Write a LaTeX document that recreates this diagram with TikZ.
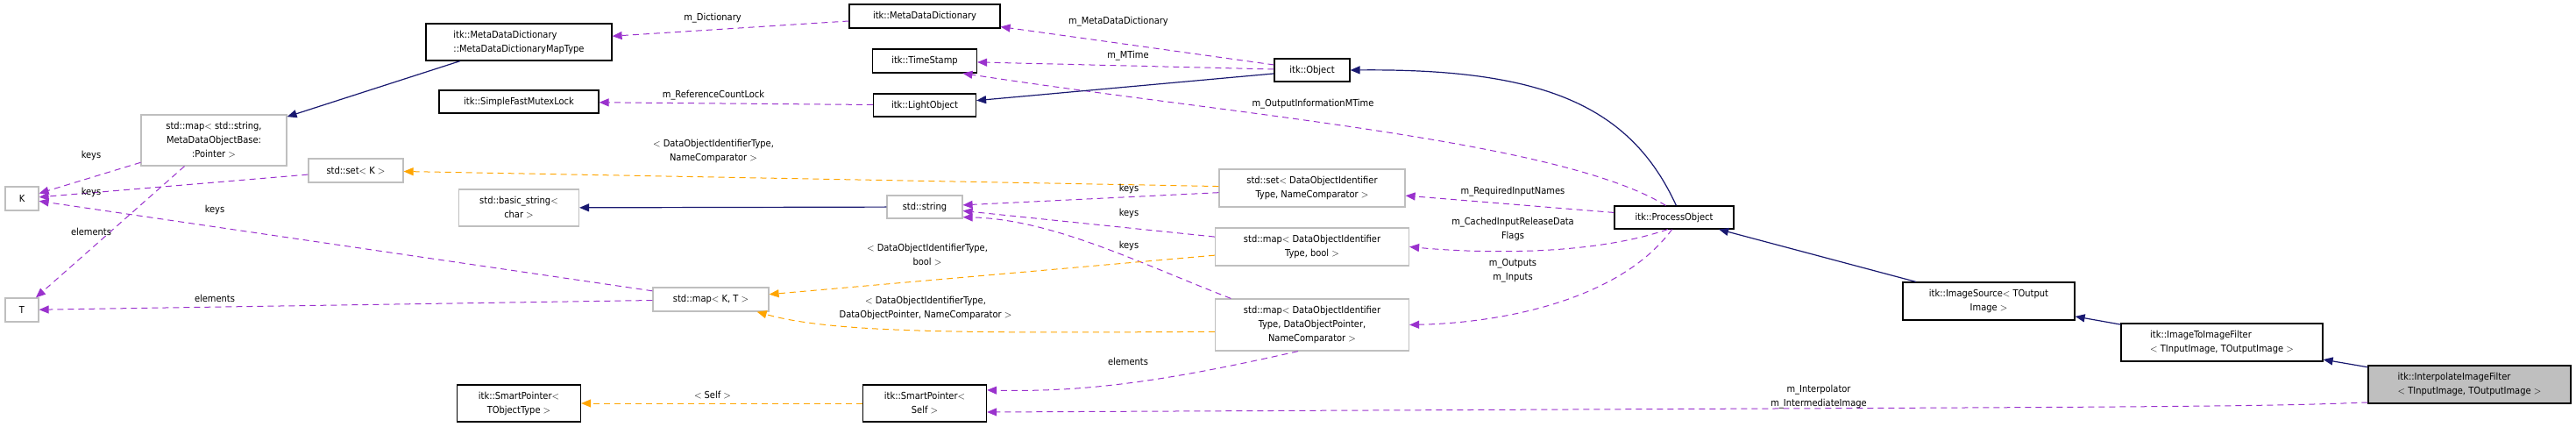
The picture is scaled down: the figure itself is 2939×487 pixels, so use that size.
\documentclass[tikz,border=0pt]{standalone}
\usepackage{fontspec}
\setmainfont{DejaVu Sans Condensed}
\usetikzlibrary{arrows.meta}
\definecolor{pur}{HTML}{9A32CD}
\definecolor{org}{HTML}{FFA500}
\definecolor{nav}{HTML}{191970}
\definecolor{gbd}{HTML}{BFBFBF}
\begin{document}
\begin{tikzpicture}[x=1pt,y=-1pt,
  every node/.style={font=\fontsize{11}{16}\selectfont, inner sep=0pt},
  bx/.style={draw=black, line width=1.2pt, fill=white, align=center},
  gb/.style={draw=gbd, line width=1.2pt, fill=white, align=center},
  lab/.style={align=center},
  tip/.style={-{Triangle[length=11pt,width=9pt]}},
  mem/.style={tip, draw=pur, line width=1pt, dash pattern=on 7pt off 5pt},
  tpl/.style={tip, draw=org, line width=1pt, dash pattern=on 7pt off 5pt},
  inh/.style={tip, draw=nav, line width=1.2pt}]
\useasboundingbox (0,0) rectangle (2939,487);
% nodes
\node[bx, minimum width=212, minimum height=42, align=left] (mapt) at (592,48) {itk::MetaDataDictionary\\::MetaDataDictionaryMapType};
\node[bx, minimum width=182, minimum height=26] (sfml) at (592,116) {itk::SimpleFastMutexLock};
\node[gb, minimum width=166, minimum height=58] (smap) at (244,160) {std::map$<$ std::string,\\MetaDataObjectBase:\\:Pointer $>$};
\node[gb, minimum width=108, minimum height=27] (setk) at (406,194.5) {std::set$<$ K $>$};
\node[gb, minimum width=38, minimum height=27] (K) at (25,226.5) {K};
\node[gb, minimum width=38, minimum height=27] (T) at (25,353.5) {T};
\node[gb, minimum width=137, minimum height=42] (bstr) at (592,237) {std::basic\_string$<$\\char $>$};
\node[gb, minimum width=132, minimum height=27] (mkt) at (811,341.5) {std::map$<$ K, T $>$};
\node[bx, minimum width=141, minimum height=42] (spt) at (592,460) {itk::SmartPointer$<$\\TObjectType $>$};
\node[bx, minimum width=172, minimum height=27] (mdd) at (1055,18.5) {itk::MetaDataDictionary};
\node[bx, minimum width=119, minimum height=27] (ts) at (1055,69.5) {itk::TimeStamp};
\node[bx, minimum width=117, minimum height=26] (lo) at (1055,120) {itk::LightObject};
\node[gb, minimum width=86, minimum height=26] (str) at (1055,236) {std::string};
\node[bx, minimum width=141, minimum height=42] (sps) at (1055,460) {itk::SmartPointer$<$\\Self $>$};
\node[bx, minimum width=86, minimum height=26] (obj) at (1497,80) {itk::Object};
\node[gb, minimum width=212, minimum height=43] (setdoi) at (1497,214.5) {std::set$<$ DataObjectIdentifier\\Type, NameComparator $>$};
\node[gb, minimum width=221, minimum height=43] (mbool) at (1497,281.5) {std::map$<$ DataObjectIdentifier\\Type, bool $>$};
\node[gb, minimum width=221, minimum height=59] (mdop) at (1497,370.5) {std::map$<$ DataObjectIdentifier\\Type, DataObjectPointer,\\NameComparator $>$};
\node[bx, minimum width=136, minimum height=26] (po) at (1910,248) {itk::ProcessObject};
\node[bx, minimum width=196, minimum height=43] (isrc) at (2269,343.5) {itk::ImageSource$<$ TOutput\\Image $>$};
\node[bx, minimum width=230, minimum height=43, align=left] (itif) at (2535,390.5) {itk::ImageToImageFilter\\$<$ TInputImage, TOutputImage $>$};
\node[bx, fill=gbd, minimum width=231, minimum height=43, align=left] (iif) at (2817.5,438.5) {itk::InterpolateImageFilter\\$<$ TInputImage, TOutputImage $>$};
% connectors
\draw[mem] (mdd) -- (mapt);
\draw[mem] (obj) -- (mdd);
\draw[mem] (obj) -- (ts);
\draw[mem] (po.125) .. controls (1780,160) and (1400,130) .. (ts.-18);
\draw[mem] (lo) -- (sfml);
\draw[inh] (obj) -- (lo);
\draw[inh] (po.80) .. controls (1860,120) and (1760,78) .. (obj.east);
\draw[inh] (mapt) -- (smap);
\draw[mem] (smap) -- (K);
\draw[mem] (smap) -- (T);
\draw[mem] (setk) -- (K);
\draw[mem] (mkt) -- (K);
\draw[mem] (mkt) -- (T);
\draw[tpl] (setdoi) -- (setk);
\draw[mem] (setdoi) -- (str);
\draw[mem] (mbool) -- (str);
\draw[mem] (mdop.162) .. controls (1300,300) and (1200,250) .. (str.-15);
\draw[inh] (str) -- (bstr);
\draw[tpl] (mbool) -- (mkt);
\draw[tpl] (mdop.184) .. controls (1100,380) and (950,380) .. (mkt.-15);
\draw[mem] (mdop.-118) .. controls (1350,430) and (1250,448) .. (sps.12);
\draw[tpl] (sps) -- (spt);
\draw[mem] (iif.190) .. controls (2550,465) and (2400,464) .. (sps.-8);
\draw[mem] (po) -- (setdoi);
\draw[mem] (po.-118) .. controls (1820,290) and (1700,290) .. (mbool.east);
\draw[mem] (po.-100) .. controls (1850,340) and (1720,368) .. (mdop.east);
\draw[inh] (isrc) -- (po);
\draw[inh] (itif) -- (isrc);
\draw[inh] (iif) -- (itif);
% labels
\node[lab] (l1) at (813,21) {m\_Dictionary};
\node[lab] (l2) at (1276,25) {m\_MetaDataDictionary};
\node[lab] (l3) at (1287,64) {m\_MTime};
\node[lab] (l4) at (1498,119) {m\_OutputInformationMTime};
\node[lab] (l5) at (814,109) {m\_ReferenceCountLock};
\node[lab] (l6) at (104,177) {keys};
\node[lab] (l7) at (104,219) {keys};
\node[lab] (l8) at (245,239) {keys};
\node[lab] (l9) at (104,264) {elements};
\node[lab] (l10) at (245,340) {elements};
\node[lab] (l11) at (814,172) {$<$ DataObjectIdentifierType,\\NameComparator $>$};
\node[lab] (l12) at (1288,215) {keys};
\node[lab] (l13) at (1288,243) {keys};
\node[lab] (l14) at (1288,280) {keys};
\node[lab] (l15) at (1058,291) {$<$ DataObjectIdentifierType,\\bool $>$};
\node[lab] (l16) at (1056,351) {$<$ DataObjectIdentifierType,\\DataObjectPointer, NameComparator $>$};
\node[lab] (l17) at (1287,412) {elements};
\node[lab] (l18) at (813,451) {$<$ Self $>$};
\node[lab] (l19) at (2075,453) {m\_Interpolator\\m\_IntermediateImage};
\node[lab] (l20) at (1726,219) {m\_RequiredInputNames};
\node[lab] (l21) at (1726,261) {m\_CachedInputReleaseData\\Flags};
\node[lab] (l22) at (1726,309) {m\_Outputs\\m\_Inputs};
\end{tikzpicture}
\end{document}
